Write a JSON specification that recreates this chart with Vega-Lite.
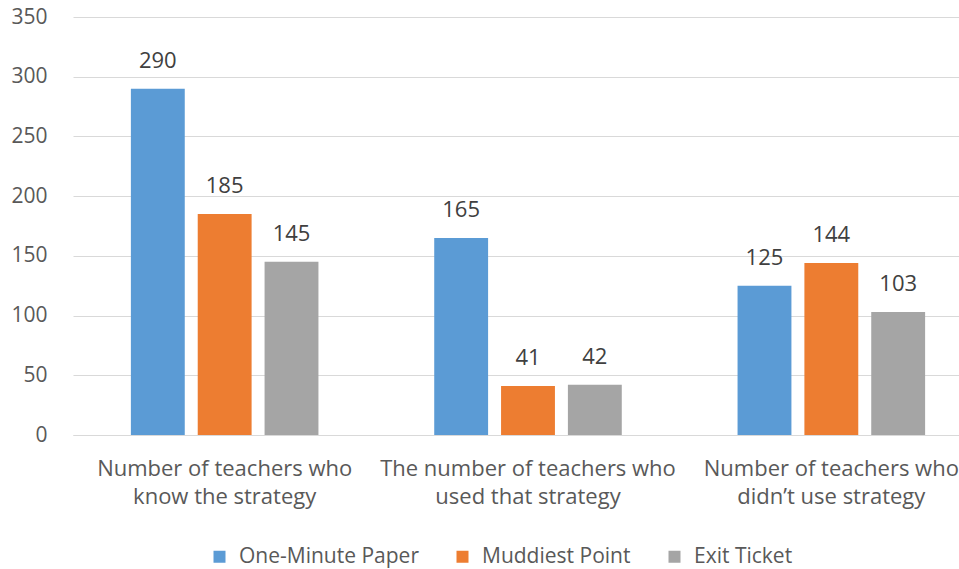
{
  "$schema": "https://vega.github.io/schema/vega-lite/v6.json",
  "autosize": "none",
  "width": 910,
  "height": 418,
  "padding": {"left": 73, "top": 17, "right": 0, "bottom": 134},
  "background": "white",
  "config": {
    "font": "Open Sans",
    "view": {"stroke": null},
    "axis": {"labelFont": "Open Sans", "labelColor": "#595959"},
    "legend": {"labelFont": "Open Sans"}
  },
  "data": {
    "values": [
      {"category": "Number of teachers who know the strategy", "series": "One-Minute Paper", "value": 290},
      {"category": "Number of teachers who know the strategy", "series": "Muddiest Point", "value": 185},
      {"category": "Number of teachers who know the strategy", "series": "Exit Ticket", "value": 145},
      {"category": "The number of teachers who used that strategy", "series": "One-Minute Paper", "value": 165},
      {"category": "The number of teachers who used that strategy", "series": "Muddiest Point", "value": 41},
      {"category": "The number of teachers who used that strategy", "series": "Exit Ticket", "value": 42},
      {"category": "Number of teachers who didn’t use strategy", "series": "One-Minute Paper", "value": 125},
      {"category": "Number of teachers who didn’t use strategy", "series": "Muddiest Point", "value": 144},
      {"category": "Number of teachers who didn’t use strategy", "series": "Exit Ticket", "value": 103}
    ]
  },
  "encoding": {
    "x": {
      "field": "category",
      "type": "nominal",
      "sort": null,
      "scale": {"paddingInner": 0, "paddingOuter": 0},
      "axis": {
        "title": null,
        "labelAngle": 0,
        "ticks": false,
        "domain": true,
        "domainColor": "#d9d9d9",
        "domainWidth": 1,
        "labelFontSize": 22,
        "labelPadding": 23,
        "labelBaseline": "top",
        "labelLineHeight": 28,
        "labelLimit": 400,
        "labelExpr": "[slice(datum.label, 0, indexof(datum.label, 'who') + 3), slice(datum.label, indexof(datum.label, 'who') + 4)]"
      }
    },
    "xOffset": {
      "field": "series",
      "type": "nominal",
      "sort": ["One-Minute Paper", "Muddiest Point", "Exit Ticket"],
      "scale": {"paddingInner": 0.194, "paddingOuter": 0.866}
    },
    "y": {
      "field": "value",
      "type": "quantitative",
      "scale": {"domain": [0, 350]},
      "axis": {
        "title": null,
        "values": [0, 50, 100, 150, 200, 250, 300, 350],
        "ticks": false,
        "domain": false,
        "gridColor": "#d9d9d9",
        "gridWidth": 1,
        "labelFontSize": 21,
        "labelPadding": 26
      }
    }
  },
  "layer": [
    {
      "mark": {"type": "bar"},
      "encoding": {
        "color": {
          "field": "series",
          "type": "nominal",
          "sort": ["One-Minute Paper", "Muddiest Point", "Exit Ticket"],
          "scale": {"domain": ["One-Minute Paper", "Muddiest Point", "Exit Ticket"], "range": ["#5B9BD5", "#ED7D31", "#A5A5A5"]},
          "legend": {
            "title": null,
            "orient": "none",
            "direction": "horizontal",
            "legendX": 136,
            "legendY": 529,
            "symbolType": "square",
            "symbolSize": 144,
            "symbolStrokeWidth": 0,
            "labelFontSize": 21,
            "labelLimit": 400,
            "labelColor": "#595959",
            "columnPadding": 33,
            "labelOffset": 9
          }
        }
      }
    },
    {
      "mark": {"type": "text", "baseline": "alphabetic", "dy": -21, "fontSize": 22, "color": "#404040"},
      "encoding": {"text": {"field": "value", "type": "quantitative"}}
    }
  ]
}
